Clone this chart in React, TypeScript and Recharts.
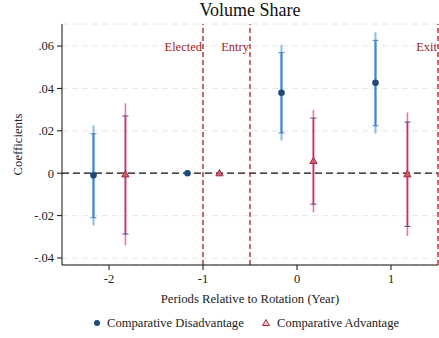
import {
  CartesianGrid,
  ComposedChart,
  ErrorBar,
  ReferenceLine,
  Scatter,
  XAxis,
  YAxis,
} from "recharts";

const periods = [-2, -1, 0, 1];
const periodTicks = [-2, -1, 0, 1];
const coefTicks = [-0.04, -0.02, 0, 0.02, 0.04, 0.06];

// Comparative Disadvantage
const disCoef = [-0.001, 0, 0.038, 0.0427];
const disInnerLo = [-0.021, 0, 0.019, 0.0224];
const disInnerHi = [0.0186, 0, 0.0569, 0.0627];
const disOuterLo = [-0.0246, 0, 0.0155, 0.0187];
const disOuterHi = [0.0226, 0, 0.0606, 0.0665];

// Comparative Advantage
const advCoef = [-0.0005, 0, 0.0058, -0.0005];
const advInnerLo = [-0.0287, 0, -0.0146, -0.0251];
const advInnerHi = [0.027, 0, 0.026, 0.0241];
const advOuterLo = [-0.034, 0, -0.0185, -0.0296];
const advOuterHi = [0.033, 0, 0.03, 0.0287];

const events = [
  { x: -1, label: "Elected" },
  { x: -0.5, label: "Entry" },
  { x: 1.5, label: "Exit" },
];

const DIS_SHIFT = -0.165;
const ADV_SHIFT = 0.175;

const FONT = "Liberation Serif, Times New Roman, DejaVu Serif, serif";
const txt = { fontFamily: FONT };

function buildRows(
  shift: number,
  coef: number[],
  innerLo: number[],
  innerHi: number[],
  outerLo: number[],
  outerHi: number[]
) {
  return periods.map((p, i) => ({
    x: p + shift,
    y: coef[i],
    inner: [coef[i] - innerLo[i], innerHi[i] - coef[i]],
    outer: [coef[i] - outerLo[i], outerHi[i] - coef[i]],
  }));
}

const disRows = buildRows(DIS_SHIFT, disCoef, disInnerLo, disInnerHi, disOuterLo, disOuterHi);
const advRows = buildRows(ADV_SHIFT, advCoef, advInnerLo, advInnerHi, advOuterLo, advOuterHi);

const fmtCoef = (v: number) => {
  if (Math.abs(v) < 1e-9) return "0";
  const s = Math.abs(v).toFixed(2).replace(/^0/, "");
  return v < 0 ? `-${s}` : s;
};

const Dot = (props: any) => (
  <circle cx={props.cx} cy={props.cy} r={3.3} fill="#1d4a7a" />
);

const Tri = (props: any) => {
  const { cx, cy } = props;
  return (
    <polygon
      points={`${cx},${cy - 3.6} ${cx - 3.6},${cy + 2.6} ${cx + 3.6},${cy + 2.6}`}
      fill="#cf5f72"
      stroke="#a92a3c"
      strokeWidth={1}
    />
  );
};

const eventLabel = (text: string) => (props: any) => {
  const vb = props.viewBox || {};
  return (
    <text
      x={vb.x - 1}
      y={vb.y + 26.5}
      textAnchor="end"
      fill="#a01e22"
      fontSize={12.5}
      style={txt}
    >
      {text}
    </text>
  );
};

export default function App() {
  return (
    <div
      style={{
        position: "absolute",
        left: 0,
        top: 0,
        width: 439,
        height: 338,
        background: "#fff",
        fontFamily: FONT,
      }}
    >
      <div
        style={{
          position: "absolute",
          left: 62,
          width: 376,
          top: 0,
          textAlign: "center",
          fontSize: 18,
          color: "#111",
        }}
      >
        Volume Share
      </div>
      <ComposedChart
        width={439}
        height={338}
        margin={{ top: 24, right: 1, bottom: 35, left: 0 }}
        style={txt}
      >
        <CartesianGrid
          vertical={false}
          stroke="#e8e8e8"
          strokeDasharray="6 4"
        />
        <XAxis
          type="number"
          dataKey="x"
          domain={[-2.5, 1.5]}
          ticks={periodTicks}
          allowDataOverflow
          height={38}
          tickSize={5}
          tickMargin={4}
          stroke="#111"
          tick={{ fill: "#222", fontSize: 12.5, style: txt }}
          label={{
            value: "Periods Relative to Rotation (Year)",
            position: "insideBottom",
            offset: 0,
            fill: "#222",
            fontSize: 12.7,
            style: txt,
          }}
        />
        <YAxis
          type="number"
          dataKey="y"
          domain={[-0.0433, 0.0704]}
          ticks={coefTicks}
          allowDataOverflow
          width={62}
          tickSize={5}
          tickMargin={3}
          stroke="#111"
          tickFormatter={fmtCoef}
          tick={{ fill: "#222", fontSize: 12.5, style: txt }}
          label={{
            value: "Coefficients",
            angle: -90,
            position: "insideLeft",
            offset: 17,
            style: { textAnchor: "middle", ...txt },
            fill: "#222",
            fontSize: 12.7,
          }}
        />
        <ReferenceLine y={0} stroke="#111" strokeWidth={1.2} strokeDasharray="7 4" />
        {events.map((e) => (
          <ReferenceLine
            key={e.label}
            x={e.x}
            stroke="#b23a3e"
            strokeWidth={1.5}
            strokeDasharray="5 3"
            label={eventLabel(e.label)}
          />
        ))}
        <Scatter
          data={disRows}
          dataKey="y"
          shape={Dot}
          isAnimationActive={false}
        >
          <ErrorBar dataKey="outer" direction="y" width={0} stroke="#8dbbf0" strokeWidth={2} isAnimationActive={false} />
          <ErrorBar dataKey="inner" direction="y" width={3} stroke="#5a7ea8" strokeWidth={1} isAnimationActive={false} />
          <ErrorBar dataKey="inner" direction="y" width={0} stroke="#3b86dc" strokeWidth={2} isAnimationActive={false} />
        </Scatter>
        <Scatter
          data={advRows}
          dataKey="y"
          shape={Tri}
          isAnimationActive={false}
        >
          <ErrorBar dataKey="outer" direction="y" width={0} stroke="#e8779f" strokeWidth={1.6} isAnimationActive={false} />
          <ErrorBar dataKey="inner" direction="y" width={3} stroke="#3c4f80" strokeWidth={1} isAnimationActive={false} />
          <ErrorBar dataKey="inner" direction="y" width={0} stroke="#d42a6e" strokeWidth={1.6} isAnimationActive={false} />
        </Scatter>
      </ComposedChart>
      <svg
        width={439}
        height={24}
        style={{ position: "absolute", left: 0, top: 312 }}
      >
        <circle cx={97} cy={11} r={3} fill="#1d4a7a" />
        <text x={107} y={15} fontSize={12.6} fill="#222" style={txt}>
          Comparative Disadvantage
        </text>
        <polygon
          points="266,7.5 262.5,13.5 269.5,13.5"
          fill="#f2c4cc"
          stroke="#a92a3c"
          strokeWidth={1}
        />
        <text x={277} y={15} fontSize={12.6} fill="#222" style={txt}>
          Comparative Advantage
        </text>
      </svg>
    </div>
  );
}
